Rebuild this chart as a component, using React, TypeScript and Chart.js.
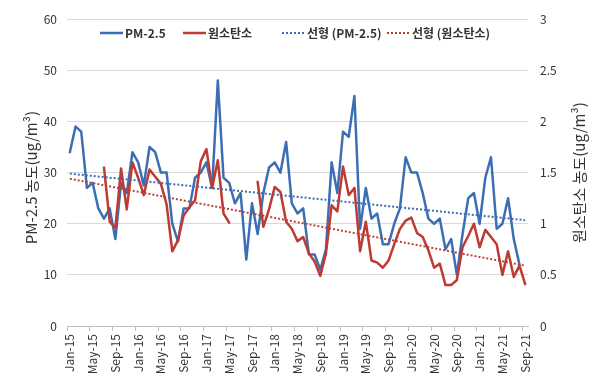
import React, { useEffect, useRef } from 'react';
import { Chart, registerables } from 'chart.js';

Chart.register(...registerables);

const categories = [
  'Jan-15', 'Feb-15', 'Mar-15', 'Apr-15', 'May-15', 'Jun-15', 'Jul-15', 'Aug-15', 'Sep-15', 'Oct-15', 'Nov-15', 'Dec-15',
  'Jan-16', 'Feb-16', 'Mar-16', 'Apr-16', 'May-16', 'Jun-16', 'Jul-16', 'Aug-16', 'Sep-16', 'Oct-16', 'Nov-16', 'Dec-16',
  'Jan-17', 'Feb-17', 'Mar-17', 'Apr-17', 'May-17', 'Jun-17', 'Jul-17', 'Aug-17', 'Sep-17', 'Oct-17', 'Nov-17', 'Dec-17',
  'Jan-18', 'Feb-18', 'Mar-18', 'Apr-18', 'May-18', 'Jun-18', 'Jul-18', 'Aug-18', 'Sep-18', 'Oct-18', 'Nov-18', 'Dec-18',
  'Jan-19', 'Feb-19', 'Mar-19', 'Apr-19', 'May-19', 'Jun-19', 'Jul-19', 'Aug-19', 'Sep-19', 'Oct-19', 'Nov-19', 'Dec-19',
  'Jan-20', 'Feb-20', 'Mar-20', 'Apr-20', 'May-20', 'Jun-20', 'Jul-20', 'Aug-20', 'Sep-20', 'Oct-20', 'Nov-20', 'Dec-20',
  'Jan-21', 'Feb-21', 'Mar-21', 'Apr-21', 'May-21', 'Jun-21', 'Jul-21', 'Aug-21', 'Sep-21',
];

// PM-2.5 (left axis, ug/m3)
const pm25 = [
  34, 39, 38, 27, 28, 23, 21, 23, 17, 28, 26, 34,
  32, 27.5, 35, 34, 30, 30, 20, 16.5, 23, 23, 29, 30,
  32, 27, 48, 29, 28, 24, 26, 13, 24, 18, 26, 31,
  32, 30, 36, 24, 22, 23, 14, 14, 11, 15, 32, 26,
  38, 37, 45, 19, 27, 21, 22, 16, 16, 20, 23, 33,
  30, 30, 26, 21, 20, 21, 15, 17, 10, 18, 25, 26,
  20, 29, 33, 19, 20, 25, 17, 12, null,
];

// 원소탄소 (right axis, ug/m3)
const ec = [
  null, null, null, null, null, null, 1.55, 1.02, 0.96, 1.54, 1.14, 1.6,
  1.45, 1.28, 1.53, 1.46, 1.39, 1.19, 0.73, 0.84, 1.08, 1.16, 1.23, 1.61,
  1.73, 1.35, 1.62, 1.1, 1.01, null, null, null, null, 1.41, 0.97, 1.14,
  1.36, 1.31, 1.02, 0.95, 0.83, 0.87, 0.71, 0.63, 0.49, 0.71, 1.18, 1.12,
  1.56, 1.28, 1.35, 0.73, 1.02, 0.64, 0.62, 0.57, 0.64, 0.8, 0.95, 1.03,
  1.06, 0.91, 0.87, 0.74, 0.57, 0.61, 0.4, 0.4, 0.45, 0.77, 0.88, 1.0,
  0.77, 0.94, 0.87, 0.8, 0.5, 0.73, 0.48, 0.59, 0.41,
];

// Linear trend lines: value at first and last category
const pm25TrendEnds = [29.8, 20.7];
const ecTrendEnds = [1.44, 0.59];

const leftTicks = { min: 0, max: 60, step: 10 };
const rightTicks = { min: 0, max: 3, step: 0.5 };

const seriesNames = ['PM-2.5', '원소탄소', '선형 (PM-2.5)', '선형 (원소탄소)'];
const leftTitle = 'PM-2.5 농도(ug/m³)';
const rightTitle = '원소탄소 농도(ug/m³)';

const BLUE = '#3C6EB4';
const RED = '#BE3A33';
const TEXT = '#333333';
const GRID = '#D9D9D9';
const FONT = '"Noto Sans CJK KR", "Noto Sans", sans-serif';

const overlayPlugin = {
  id: 'overlay',
  afterDraw(chart: any) {
    const ctx = chart.ctx as CanvasRenderingContext2D;
    const ca = chart.chartArea;
    ctx.save();
    // axis titles (both read bottom-to-top)
    ctx.fillStyle = TEXT;
    ctx.font = `15px ${FONT}`;
    ctx.textAlign = 'center';
    ctx.textBaseline = 'middle';
    ctx.save();
    ctx.translate(31, (ca.top + ca.bottom) / 2 + 5);
    ctx.rotate(-Math.PI / 2);
    ctx.fillText(leftTitle, 0, 0);
    ctx.restore();
    ctx.save();
    ctx.translate(579, (ca.top + ca.bottom) / 2);
    ctx.rotate(-Math.PI / 2);
    ctx.fillText(rightTitle, 0, 0);
    ctx.restore();

    // legend inside plot area
    const offsets = [33, 116, 215, 320];
    const y = 33;
    const sample = 23;
    chart.data.datasets.forEach((ds: any, i: number) => {
      const x0 = ca.left + offsets[i];
      ctx.save();
      ctx.strokeStyle = ds.borderColor;
      ctx.lineWidth = ds.borderWidth;
      ctx.setLineDash(ds.borderDash || []);
      ctx.beginPath();
      ctx.moveTo(x0, y);
      ctx.lineTo(x0 + sample, y);
      ctx.stroke();
      ctx.restore();
      ctx.font = `bold 12px ${FONT}`;
      ctx.textAlign = 'left';
      ctx.textBaseline = 'middle';
      ctx.fillStyle = TEXT;
      ctx.fillText(ds.label, x0 + sample + 2, y);
    });
    ctx.restore();
  },
};

export default function App() {
  const ref = useRef<HTMLCanvasElement | null>(null);

  useEffect(() => {
    if (!ref.current) return;
    const last = categories[categories.length - 1];
    const chart = new Chart(ref.current, {
      type: 'line',
      data: {
        labels: categories,
        datasets: [
          {
            label: seriesNames[0],
            data: pm25,
            borderColor: BLUE,
            backgroundColor: BLUE,
            borderWidth: 2.5,
            pointRadius: 0,
            tension: 0,
            borderJoinStyle: 'round',
            borderCapStyle: 'round',
            yAxisID: 'y',
            order: 4,
          },
          {
            label: seriesNames[1],
            data: ec,
            borderColor: RED,
            backgroundColor: RED,
            borderWidth: 2.5,
            pointRadius: 0,
            tension: 0,
            borderJoinStyle: 'round',
            borderCapStyle: 'round',
            yAxisID: 'y1',
            order: 3,
          },
          {
            label: seriesNames[2],
            data: [
              { x: categories[0], y: pm25TrendEnds[0] },
              { x: last, y: pm25TrendEnds[1] },
            ],
            borderColor: BLUE,
            backgroundColor: BLUE,
            borderWidth: 2,
            borderDash: [2, 2],
            pointRadius: 0,
            yAxisID: 'y',
            order: 2,
          },
          {
            label: seriesNames[3],
            data: [
              { x: categories[0], y: ecTrendEnds[0] },
              { x: last, y: ecTrendEnds[1] },
            ],
            borderColor: RED,
            backgroundColor: RED,
            borderWidth: 2,
            borderDash: [2, 2],
            pointRadius: 0,
            yAxisID: 'y1',
            order: 1,
          },
        ] as any,
      },
      options: {
        responsive: false,
        animation: false,
        devicePixelRatio: 1,
        layout: { padding: { top: 14, left: 0, right: 0, bottom: 0 } },
        plugins: {
          legend: { display: false },
          tooltip: { enabled: false },
          title: { display: false },
        },
        scales: {
          x: {
            type: 'category',
            offset: true,
            grid: {
              offset: true,
              drawOnChartArea: false,
              drawTicks: true,
              tickLength: 5,
              color: (c: any) => (c.index !== undefined && c.index % 4 === 0 ? '#BFBFBF' : 'rgba(0,0,0,0)'),
            },
            border: { display: true, color: '#BFBFBF' },
            ticks: {
              autoSkip: false,
              minRotation: 90,
              maxRotation: 90,
              padding: 3,
              color: TEXT,
              font: { family: FONT, size: 12 },
              callback: (_v: any, i: number) => (i % 4 === 0 ? categories[i] : ''),
            },
            afterFit: (s: any) => {
              s.height = 58;
            },
          },
          y: {
            position: 'left',
            min: leftTicks.min,
            max: leftTicks.max,
            ticks: {
              stepSize: leftTicks.step,
              padding: 10,
              color: TEXT,
              font: { family: FONT, size: 12 },
            },
            grid: { color: GRID, drawTicks: false },
            border: { display: false },
            afterFit: (s: any) => {
              s.width = 67;
            },
          },
          y1: {
            position: 'right',
            min: rightTicks.min,
            max: rightTicks.max,
            ticks: {
              stepSize: rightTicks.step,
              padding: 12,
              color: TEXT,
              font: { family: FONT, size: 12 },
              callback: (v: any) => String(Math.round(Number(v) * 10) / 10),
            },
            grid: { drawOnChartArea: false, drawTicks: false },
            border: { display: false },
            afterFit: (s: any) => {
              s.width = 72;
            },
          },
        },
      } as any,
      plugins: [overlayPlugin],
    });
    return () => chart.destroy();
  }, []);

  return (
    <div style={{ position: 'fixed', left: 0, top: 0, width: 600, height: 384, background: '#ffffff' }}>
      <canvas ref={ref} width={600} height={384} style={{ width: 600, height: 384, display: 'block' }} />
    </div>
  );
}
